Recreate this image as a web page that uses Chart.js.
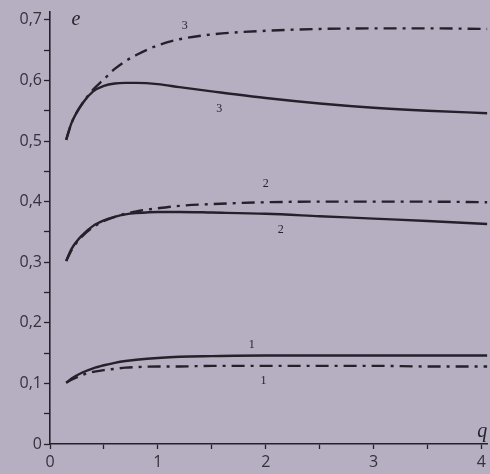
<!DOCTYPE html>
<html>
<head>
<meta charset="utf-8">
<script src="https://cdn.jsdelivr.net/npm/chart.js@4"></script>
<style>
    html, body { margin: 0; padding: 0; background: #b6afc2; }
    #wrap { width: 490px; height: 474px; }
</style>
</head>
<body>
<div id="wrap"><canvas id="chart" width="490" height="474"></canvas></div>
<script>
// q values shared by all curves
const qValues = [0.15, 0.2, 0.3, 0.4, 0.5, 0.6, 0.7, 0.8, 1.0, 1.2, 1.5, 2.0, 2.5, 3.0, 3.5, 4.055];

// solid curves
const eSolid1 = [0.101, 0.108, 0.118, 0.125, 0.130, 0.134, 0.137, 0.139, 0.142, 0.144, 0.145, 0.146, 0.146, 0.146, 0.146, 0.146];
const eSolid2 = [0.302, 0.322, 0.345, 0.360, 0.369, 0.375, 0.379, 0.381, 0.383, 0.383, 0.382, 0.380, 0.376, 0.372, 0.368, 0.363];
const eSolid3 = [0.502, 0.530, 0.562, 0.582, 0.591, 0.595, 0.596, 0.596, 0.594, 0.589, 0.582, 0.571, 0.562, 0.555, 0.550, 0.546];

// dash-dot curves
const eDash1 = [0.101, 0.106, 0.114, 0.119, 0.122, 0.124, 0.126, 0.127, 0.128, 0.128, 0.129, 0.129, 0.129, 0.129, 0.128, 0.128];
const eDash2 = [0.302, 0.320, 0.343, 0.358, 0.368, 0.375, 0.380, 0.384, 0.389, 0.393, 0.396, 0.399, 0.400, 0.400, 0.400, 0.399];
const eDash3 = [0.502, 0.530, 0.562, 0.585, 0.602, 0.619, 0.632, 0.642, 0.658, 0.668, 0.676, 0.682, 0.685, 0.686, 0.686, 0.685];

// curve number labels (text, q, e)
const curveLabels = ['3', '3', '2', '2', '1', '1'];
const curveLabelQ = [1.25, 1.57, 2.0, 2.14, 1.87, 1.98];
const curveLabelE = [0.690, 0.553, 0.430, 0.354, 0.164, 0.105];

const ink = '#25212b';

function toPoints(ys) {
    return qValues.map((q, i) => ({ x: q, y: ys[i] }));
}

function makeSet(ys, dashed) {
    return {
        data: toPoints(ys),
        borderColor: ink,
        borderWidth: 2.4,
        borderDash: dashed ? [13, 6, 3, 6] : [],
        pointRadius: 0,
        fill: false,
        cubicInterpolationMode: 'monotone'
    };
}

function isMultiple(v, step) {
    const r = v / step;
    return Math.abs(r - Math.round(r)) < 1e-6;
}

const backgroundPlugin = {
    id: 'paper',
    beforeDraw(chart) {
        const c = chart.ctx;
        c.save();
        c.fillStyle = '#b6afc2';
        c.fillRect(0, 0, chart.width, chart.height);
        c.restore();
    }
};

const labelsPlugin = {
    id: 'curveLabels',
    afterDatasetsDraw(chart) {
        const c = chart.ctx;
        const xs = chart.scales.x;
        const ys = chart.scales.y;
        c.save();
        c.fillStyle = ink;
        c.textAlign = 'center';
        c.textBaseline = 'middle';
        c.font = '12px "Liberation Serif"';
        curveLabels.forEach((t, i) => {
            c.fillText(t, xs.getPixelForValue(curveLabelQ[i]), ys.getPixelForValue(curveLabelE[i]));
        });
        // axis names
        c.font = 'italic 20px "Liberation Serif"';
        c.textAlign = 'left';
        c.fillText('e', xs.getPixelForValue(0.2), ys.getPixelForValue(0.7));
        c.textAlign = 'right';
        c.fillText('q', xs.getPixelForValue(4.055), ys.getPixelForValue(0.02));
        c.restore();
    }
};

new Chart(document.getElementById('chart'), {
    type: 'line',
    data: {
        datasets: [
            makeSet(eSolid1, false),
            makeSet(eDash1, true),
            makeSet(eSolid2, false),
            makeSet(eDash2, true),
            makeSet(eSolid3, false),
            makeSet(eDash3, true)
        ]
    },
    options: {
        responsive: false,
        animation: false,
        layout: { padding: { top: 12, right: 0, left: 0, bottom: 0 } },
        plugins: {
            legend: { display: false },
            tooltip: { enabled: false }
        },
        scales: {
            x: {
                type: 'linear',
                min: 0,
                max: 4.055,
                afterFit: function(scale) { scale.height = 30; },
                border: { color: ink, width: 1.6 },
                grid: { drawOnChartArea: false, tickLength: 5, color: ink, tickWidth: 1.3 },
                ticks: {
                    stepSize: 0.5,
                    includeBounds: false,
                    maxRotation: 0,
                    autoSkip: false,
                    padding: 4,
                    color: '#35313b',
                    font: { family: '"Open Sans"', size: 16 },
                    callback: function(v) { return isMultiple(v, 1) ? String(Math.round(v)) : ''; }
                }
            },
            y: {
                type: 'linear',
                min: 0,
                max: 0.713,
                afterFit: function(scale) { scale.width = 50; },
                border: { color: ink, width: 1.6 },
                grid: { drawOnChartArea: false, tickLength: 6, color: ink, tickWidth: 1.3 },
                ticks: {
                    stepSize: 0.05,
                    includeBounds: false,
                    autoSkip: false,
                    padding: 2,
                    color: '#35313b',
                    font: { family: '"Open Sans"', size: 16 },
                    callback: function(v) {
                        if (!isMultiple(v, 0.1)) return '';
                        if (Math.abs(v) < 1e-9) return '0';
                        return v.toFixed(1).replace('.', ',');
                    }
                }
            }
        }
    },
    plugins: [backgroundPlugin, labelsPlugin]
});
</script>
</body>
</html>
